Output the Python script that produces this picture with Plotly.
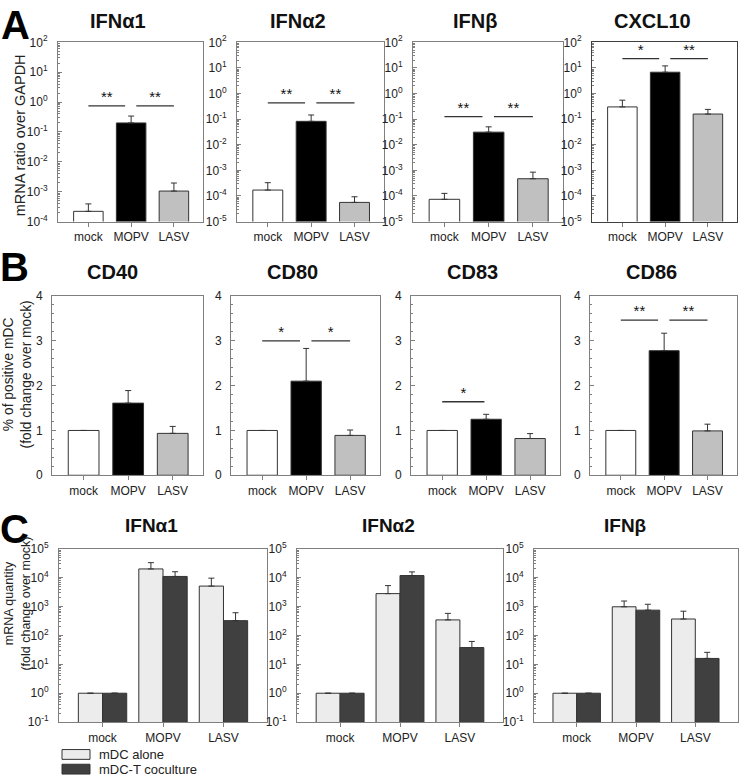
import math
import plotly.graph_objects as go

# ---------------- data ----------------
categories = ["mock", "MOPV", "LASV"]

A_titles = ["IFNα1", "IFNα2", "IFNβ", "CXCL10"]
A_mean = [
    [2.2e-4, 0.20, 1.05e-3],
    [1.7e-4, 0.082, 5.6e-5],
    [7.4e-5, 0.031, 4.7e-4],
    [0.30, 6.8, 0.158],
]
A_upper = [
    [3.9e-4, 0.34, 1.95e-3],
    [3.3e-4, 0.145, 9.3e-5],
    [1.26e-4, 0.05, 8.5e-4],
    [0.55, 12.0, 0.24],
]
A_ymin_exp = [-4, -5, -5, -5]
A_ymax_exp = [2, 2, 2, 2]
A_sig_y = [0.74, 0.43, 0.126, 23.0]
A_sig = [
    [(0, 0.86, "**"), (1.12, 2.0, "**")],
    [(0, 0.86, "**"), (1.12, 2.0, "**")],
    [(0, 0.86, "**"), (1.12, 2.0, "**")],
    [(0, 0.86, "*"), (1.12, 2.0, "**")],
]

B_titles = ["CD40", "CD80", "CD83", "CD86"]
B_mean = [
    [1.0, 1.61, 0.935],
    [1.0, 2.10, 0.89],
    [1.0, 1.25, 0.82],
    [1.0, 2.78, 0.99],
]
B_upper = [
    [None, 1.89, 1.09],
    [None, 2.83, 1.01],
    [None, 1.36, 0.93],
    [None, 3.17, 1.14],
]
B_sig_y = [None, 3.0, 1.64, 3.46]
B_sig = [
    [],
    [(0, 0.86, "*"), (1.12, 2.0, "*")],
    [(0, 0.96, "*")],
    [(0, 0.86, "**"), (1.12, 2.0, "**")],
]
B_yticks = [0, 1, 2, 3, 4]

C_titles = ["IFNα1", "IFNα2", "IFNβ"]
C_series = ["mDC alone", "mDC-T coculture"]
C_alone = [[1, 2.0e4, 5.1e3], [1, 2.8e3, 345], [1, 980, 370]]
C_alone_up = [[None, 3.3e4, 9.6e3], [None, 5.3e3, 580], [None, 1550, 690]]
C_cocult = [[1, 1.1e4, 325], [1, 1.18e4, 38], [1, 750, 16]]
C_cocult_up = [[None, 1.6e4, 610], [None, 1.58e4, 62], [None, 1200, 26]]
C_ymin_exp, C_ymax_exp = -1, 5

# ---------------- style / layout ----------------
FONT = "Liberation Sans, Arial, Helvetica, sans-serif"
W, H = 740, 783
FRAME = "#7f7f7f"
INK = "#222222"
A_colors = ["#ffffff", "#000000", "#c0c0c0"]
C_colors = ["#ececec", "#404040"]

A_x = [(58, 203), (237, 384), (413, 563), (592, 737)]
A_y = (34, 217)
B_x = [(52, 203), (231, 380), (411, 560), (590, 737)]
B_y = (293, 476)
C_x = [(59, 267), (297, 503), (534, 738)]
C_y = (551, 728)
XR_AB = [-0.71, 2.68]
XR_C = [-0.72, 2.72]


def dx(a, b):
    return [a / W, b / W]


def dy(top, bot):
    return [1 - bot / H, 1 - top / H]


def sup(e):
    return "10<sup>%d</sup>" % e


def log_minor(lo, hi):
    vals = []
    for d in range(lo, hi):
        for k in range(2, 10):
            vals.append(k * 10.0 ** d)
    return vals


fig = go.Figure()
layout = dict(
    width=W, height=H, margin=dict(l=0, r=0, t=0, b=0, pad=0),
    paper_bgcolor="white", plot_bgcolor="white",
    showlegend=False, barmode="overlay",
    font=dict(family=FONT, size=12, color=INK),
)
annotations = []
shapes = []
idx = [0]


def new_axes(xd, yd, xr, ylog, yr, tickvals, ticktext, minor, frame=FRAME, standoff=7):
    idx[0] += 1
    i = idx[0]
    s = "" if i == 1 else str(i)
    layout["xaxis" + s] = dict(
        domain=dx(*xd), range=xr, anchor="y" + s,
        tickmode="array", tickvals=[0, 1, 2], ticktext=categories,
        ticks="outside", ticklen=4, tickcolor=FRAME,
        showline=True, linecolor=frame, linewidth=1, mirror=True,
        showgrid=False, zeroline=False, fixedrange=True,
        tickfont=dict(size=12, family=FONT, color=INK),
    )
    layout["yaxis" + s] = dict(
        domain=dy(*yd), range=yr, anchor="x" + s,
        type="log" if ylog else "linear",
        tickmode="array", tickvals=tickvals, ticktext=ticktext,
        ticks="inside", ticklen=4, tickcolor=FRAME,
        minor=minor,
        showline=True, linecolor=frame, linewidth=1, mirror=True,
        showgrid=False, zeroline=False, fixedrange=True,
        ticklabelstandoff=standoff,
        tickfont=dict(size=12, family=FONT, color=INK),
    )
    return "x" + s, "y" + s


def err(means, uppers):
    return dict(
        type="data", symmetric=False,
        array=[(u - m) if u is not None else None for m, u in zip(means, uppers)],
        arrayminus=[0 if u is not None else None for u in uppers],
        color="#333333", thickness=1, width=3,
    )


def add_sig(xa, ya, yv, segs):
    for x0, x1, st in segs:
        fig.add_trace(go.Scatter(
            x=[x0, x1], y=[yv, yv], mode="lines",
            line=dict(color="#333333", width=1.3),
            xaxis=xa, yaxis=ya, hoverinfo="skip"))
        fig.add_trace(go.Scatter(
            x=[(x0 + x1) / 2], y=[yv], mode="text", text=[st],
            textposition="top center",
            textfont=dict(size=15, family=FONT, color="#111111"),
            xaxis=xa, yaxis=ya, hoverinfo="skip"))


def title(text, xp, yp, size=20):
    annotations.append(dict(
        text="<b>%s</b>" % text, x=xp / W, y=1 - yp / H, xref="paper", yref="paper",
        xanchor="center", yanchor="middle", showarrow=False,
        font=dict(size=size, family=FONT, color="#111111")))


# ---- Row A ----
A_title_x = [118, 298, 475, 652]
for p in range(4):
    lo, hi = A_ymin_exp[p], A_ymax_exp[p]
    xa, ya = new_axes(
        A_x[p], A_y, XR_AB, True, [lo, hi],
        [10.0 ** e for e in range(lo, hi + 1)], [sup(e) for e in range(lo, hi + 1)],
        dict(tickmode="array", tickvals=log_minor(lo, hi), ticks="inside",
             ticklen=2, tickcolor=FRAME),
        frame="#404040" if p == 3 else FRAME)
    fig.add_trace(go.Bar(
        x=[0, 1, 2], y=A_mean[p], width=0.69,
        marker=dict(color=A_colors, line=dict(color="#333333", width=1)),
        error_y=err(A_mean[p], A_upper[p]), xaxis=xa, yaxis=ya, hoverinfo="skip"))
    add_sig(xa, ya, A_sig_y[p], A_sig[p])
    title(A_titles[p], A_title_x[p], 12)

# ---- Row B ----
B_title_x = [112, 292, 472, 651]
for p in range(4):
    xa, ya = new_axes(
        B_x[p], B_y, XR_AB, False, [0, 4],
        B_yticks, [str(v) for v in B_yticks],
        dict(dtick=0.2, ticks="inside", ticklen=2, tickcolor=FRAME), standoff=6)
    fig.add_trace(go.Bar(
        x=[0, 1, 2], y=B_mean[p], width=0.69,
        marker=dict(color=A_colors, line=dict(color="#333333", width=1)),
        error_y=err(B_mean[p], B_upper[p]), xaxis=xa, yaxis=ya, hoverinfo="skip"))
    if B_sig[p]:
        add_sig(xa, ya, B_sig_y[p], B_sig[p])
    title(B_titles[p], B_title_x[p], 268)

# ---- Row C ----
C_title_x = [151, 388, 625]
for p in range(3):
    lo, hi = C_ymin_exp, C_ymax_exp
    xa, ya = new_axes(
        C_x[p], C_y, XR_C, True, [lo, hi],
        [10.0 ** e for e in range(lo, hi + 1)], [sup(e) for e in range(lo, hi + 1)],
        dict(tickmode="array", tickvals=log_minor(lo, hi), ticks="inside",
             ticklen=2, tickcolor=FRAME))
    for s, (vals, ups, off) in enumerate([(C_alone[p], C_alone_up[p], -0.4),
                                          (C_cocult[p], C_cocult_up[p], 0.0)]):
        fig.add_trace(go.Bar(
            x=[0, 1, 2], y=vals, width=0.4, offset=off, name=C_series[s],
            marker=dict(color=C_colors[s], line=dict(color="#333333", width=1)),
            error_y=err(vals, ups), xaxis=xa, yaxis=ya, hoverinfo="skip"))
    title(C_titles[p], C_title_x[p], 527, size=19)

# ---- panel letters ----
for letter, (lx, ly) in zip("ABC", [(15, 16), (14, 263), (14, 531)]):
    annotations.append(dict(
        text="<b>%s</b>" % letter, x=lx / W, y=1 - ly / H, xref="paper", yref="paper",
        xanchor="center", yanchor="middle", showarrow=False,
        font=dict(size=40, family=FONT, color="#000000")))


# ---- y-axis titles ----
def ytitle(text, xp, yp, size):
    annotations.append(dict(
        text=text, x=xp / W, y=1 - yp / H, xref="paper", yref="paper",
        xanchor="center", yanchor="middle", showarrow=False, textangle=-90,
        font=dict(size=size, family=FONT, color=INK)))


ytitle("mRNA ratio over GAPDH", 20, 129, 14.5)
ytitle("% of positive mDC<br>(fold change over mock)", 17, 373, 13.8)
ytitle("mRNA quantity<br>(fold change over mock)", 17, 607, 12.5)

# ---- legend (manual, bottom-left) ----
for s, (ly0, ly1) in enumerate([(756, 766), (771, 781)]):
    shapes.append(dict(type="rect", xref="paper", yref="paper",
                       x0=62 / W, x1=90 / W, y0=1 - ly1 / H, y1=1 - ly0 / H,
                       fillcolor=C_colors[s], line=dict(color="#333333", width=1)))
    annotations.append(dict(
        text=C_series[s], x=97 / W, y=1 - (ly0 + ly1) / 2 / H, xref="paper", yref="paper",
        xanchor="left", yanchor="middle", showarrow=False,
        font=dict(size=13, family=FONT, color=INK)))

layout["annotations"] = annotations
layout["shapes"] = shapes
fig.update_layout(**layout)
fig.write_html("out.html",
               config={"displayModeBar": False},
               post_script="document.body.style.margin='0px';document.body.style.padding='0px';")
